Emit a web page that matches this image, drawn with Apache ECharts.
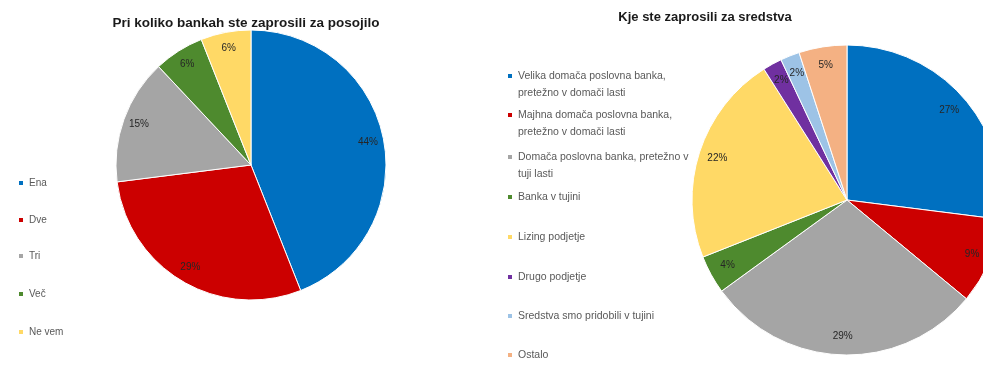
<!DOCTYPE html>
<html><head><meta charset="utf-8">
<script src="https://cdn.jsdelivr.net/npm/echarts@6/dist/echarts.min.js"></script>
<style>html,body{margin:0;padding:0;background:#fff}#c{width:983px;height:367px}</style>
</head><body><div id="c"></div>
<script>
// ---- data ----
const leftTitle = 'Pri koliko bankah ste zaprosili za posojilo';
const leftCategories = ['Ena', 'Dve', 'Tri', 'Več', 'Ne vem'];
const leftValues = [44, 29, 15, 6, 6];
const leftColors = ['#0070C0', '#CC0000', '#A5A5A5', '#4E8A2E', '#FFD966'];

const rightTitle = 'Kje ste zaprosili za sredstva';
const rightCategories = [
  'Velika domača poslovna banka,\npretežno v domači lasti',
  'Majhna domača poslovna banka,\npretežno v domači lasti',
  'Domača poslovna banka, pretežno v\ntuji lasti',
  'Banka v tujini',
  'Lizing podjetje',
  'Drugo podjetje',
  'Sredstva smo pridobili v tujini',
  'Ostalo'
];
const rightValues = [27, 9, 29, 4, 22, 2, 2, 5];
const rightColors = ['#0070C0', '#CC0000', '#A5A5A5', '#4E8A2E', '#FFD966', '#7030A0', '#9DC3E6', '#F4B183'];

// ---- layout ----
const L = {cx: 251, cy: 165, r: 135};
const R = {cx: 847, cy: 200, r: 155};
const leftLegendCenters = [183, 220, 256, 294, 332];
const rightLegendCenters = [76, 115, 157, 197, 237, 277, 316, 355];

function toData(names, vals) { return names.map((n, i) => ({name: n, value: vals[i]})); }

function pieSeries(p, names, vals, colors) {
  return [{
    type: 'pie', center: [p.cx, p.cy], radius: [0, p.r], startAngle: 90, clockwise: true,
    color: colors, data: toData(names, vals), label: {show: false}, labelLine: {show: false},
    itemStyle: {borderColor: '#fff', borderWidth: 1}, emphasis: {disabled: true}, silent: true
  }, {
    type: 'pie', center: [p.cx, p.cy], radius: [p.r * 0.72, p.r], startAngle: 90, clockwise: true,
    data: toData(names, vals), itemStyle: {color: 'rgba(0,0,0,0)'},
    label: {show: true, position: 'inside', formatter: '{c}%', fontSize: 10, color: '#262626',
            fontFamily: 'Liberation Sans'},
    labelLine: {show: false}, emphasis: {disabled: true}, silent: true, z: 3
  }];
}

function legendItem(name, x, centerY, fs) {
  const lines = name.split('\n').length;
  const lh = 17;
  return {
    data: [name], left: x, orient: 'vertical', padding: 0, itemWidth: 6, itemHeight: 6,
    icon: 'rect', selectedMode: false,
    formatter: function (n) { return '\n'.repeat(lines - 1) + n; },
    textStyle: {fontSize: fs, color: '#595959', lineHeight: lh, fontFamily: 'Liberation Sans'},
    top: centerY - (lh * (2 * lines - 1)) / 2
  };
}

const legends = [];
leftCategories.forEach((n, i) => legends.push(legendItem(n, 17, leftLegendCenters[i], 10)));
rightCategories.forEach((n, i) => legends.push(legendItem(n, 506, rightLegendCenters[i], 10.5)));

const chart = echarts.init(document.getElementById('c'), null, {renderer: 'canvas'});
chart.setOption({
  animation: false,
  backgroundColor: '#fff',
  title: [
    {text: leftTitle, left: 241, top: 11, textAlign: 'center',
     textStyle: {fontSize: 13.5, fontWeight: 'bold', color: '#1a1a1a', fontFamily: 'Liberation Sans'}},
    {text: rightTitle, left: 700, top: 6, textAlign: 'center',
     textStyle: {fontSize: 13, fontWeight: 'bold', color: '#1a1a1a', fontFamily: 'Liberation Sans'}}
  ],
  legend: legends,
  series: [].concat(pieSeries(L, leftCategories, leftValues, leftColors),
                    pieSeries(R, rightCategories, rightValues, rightColors))
});
</script></body></html>
